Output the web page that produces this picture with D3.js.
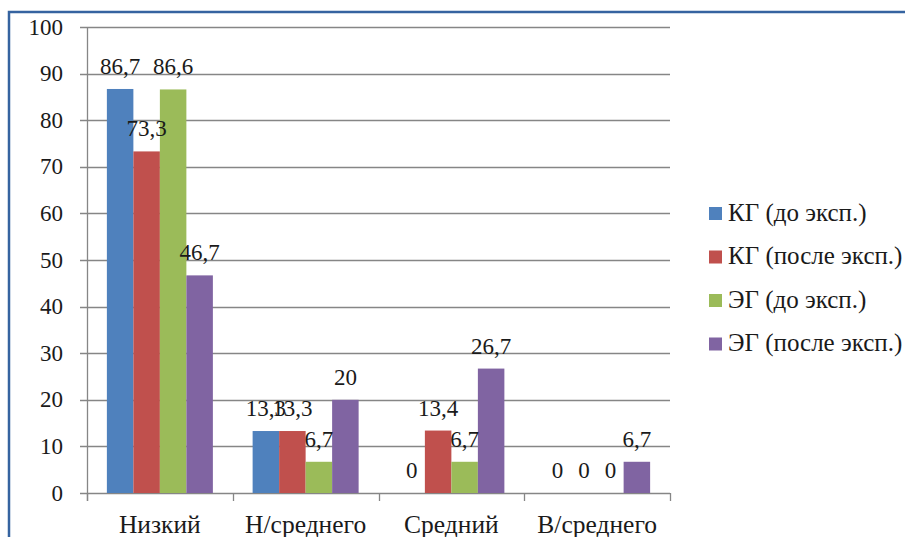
<!DOCTYPE html>
<html>
<head>
<meta charset="utf-8">
<script src="https://cdn.jsdelivr.net/npm/d3@7"></script>
</head>
<body style="margin:0">
<svg width="905" height="537" id="s"></svg>
<script>
// Levels (categories) along the x axis
const categories = ["Низкий", "Н/среднего", "Средний", "В/среднего"];

// Groups shown in the legend
const seriesNames = ["КГ (до эксп.)", "КГ (после эксп.)", "ЭГ (до эксп.)", "ЭГ (после эксп.)"];

// Percent of pupils per level, one array per group
const kgBefore = [86.7, 13.3, 0, 0];
const kgAfter  = [73.3, 13.3, 13.4, 0];
const egBefore = [86.6, 6.7, 6.7, 0];
const egAfter  = [46.7, 20, 26.7, 6.7];

const yTicks = [0, 10, 20, 30, 40, 50, 60, 70, 80, 90, 100];

const seriesValues = [kgBefore, kgAfter, egBefore, egAfter];
const colors = ["#4F81BD", "#C0504D", "#9BBB59", "#8064A2"];

const FONT = "'Liberation Serif', monospace";
const TEXT_COLOR = "#1a1a1a";

const svg = d3.select("#s");

// white page
svg.append("rect").attr("width", 905).attr("height", 537).attr("fill", "#fff");

// outer frame
svg.append("rect")
  .attr("x", 9).attr("y", 12)
  .attr("width", 920).attr("height", 560)
  .attr("fill", "none")
  .attr("stroke", "#3563a0")
  .attr("stroke-width", 2.5);

const plot = { left: 87, right: 670, top: 27, bottom: 493 };

const y = d3.scaleLinear().domain([0, 100]).range([plot.bottom, plot.top]);
const x0 = d3.scaleBand().domain(categories).range([plot.left, plot.right]).padding(0);
const x1 = d3.scaleBand().domain(d3.range(seriesNames.length))
  .range([0, x0.bandwidth()]).paddingInner(0).paddingOuter(0.75);

const gridColor = "#868686";

// horizontal gridlines with outward ticks
svg.append("g")
  .selectAll("line")
  .data(yTicks)
  .join("line")
  .attr("x1", plot.left - 7)
  .attr("x2", plot.right)
  .attr("y1", d => Math.round(y(d)) + 0.5)
  .attr("y2", d => Math.round(y(d)) + 0.5)
  .attr("stroke", gridColor)
  .attr("stroke-width", 1.3);

// y tick labels
svg.append("g")
  .selectAll("text")
  .data(yTicks)
  .join("text")
  .attr("x", 63)
  .attr("y", d => y(d))
  .attr("dy", "0.33em")
  .attr("text-anchor", "end")
  .attr("font-family", FONT)
  .attr("fill", TEXT_COLOR)
  .attr("font-size", 23)
  .text(d => d);

// vertical axis line
svg.append("line")
  .attr("x1", plot.left + 0.5).attr("x2", plot.left + 0.5)
  .attr("y1", plot.top).attr("y2", plot.bottom + 8)
  .attr("stroke", gridColor).attr("stroke-width", 1.3);

// category boundary ticks on the x axis
const boundaries = categories.map(c => x0(c)).concat([plot.right]);
svg.append("g")
  .selectAll("line")
  .data(boundaries)
  .join("line")
  .attr("x1", d => Math.round(d) + 0.5)
  .attr("x2", d => Math.round(d) + 0.5)
  .attr("y1", plot.bottom)
  .attr("y2", plot.bottom + 8)
  .attr("stroke", gridColor)
  .attr("stroke-width", 1.3);

// bars
const groups = svg.append("g")
  .selectAll("g")
  .data(categories)
  .join("g")
  .attr("transform", c => `translate(${x0(c)},0)`);

groups.selectAll("rect")
  .data((c, ci) => seriesValues.map((vals, si) => ({ si, v: vals[ci] })))
  .join("rect")
  .attr("x", d => x1(d.si))
  .attr("width", x1.bandwidth())
  .attr("y", d => y(d.v))
  .attr("height", d => plot.bottom - y(d.v))
  .attr("fill", d => colors[d.si]);

// value labels above bars
groups.selectAll("text")
  .data((c, ci) => seriesValues.map((vals, si) => ({ si, v: vals[ci] })))
  .join("text")
  .attr("x", d => x1(d.si) + x1.bandwidth() / 2)
  .attr("y", d => y(d.v) - 15)
  .attr("text-anchor", "middle")
  .attr("font-family", FONT)
  .attr("fill", TEXT_COLOR)
  .attr("font-size", 23)
  .text(d => String(d.v).replace(".", ","));

// x axis category labels
svg.append("g")
  .selectAll("text")
  .data(categories)
  .join("text")
  .attr("x", c => x0(c) + x0.bandwidth() / 2)
  .attr("y", 533)
  .attr("text-anchor", "middle")
  .attr("font-family", FONT)
  .attr("fill", TEXT_COLOR)
  .attr("font-size", 25.5)
  .text(c => c);

// legend
const legend = svg.append("g")
  .selectAll("g")
  .data(seriesNames)
  .join("g")
  .attr("transform", (d, i) => `translate(709,${213 + i * 43.5})`);

legend.append("rect")
  .attr("x", 0).attr("y", -6)
  .attr("width", 13).attr("height", 13)
  .attr("fill", (d, i) => colors[i]);

legend.append("text")
  .attr("x", 19)
  .attr("y", 0)
  .attr("dy", "0.3em")
  .attr("font-family", FONT)
  .attr("fill", TEXT_COLOR)
  .attr("font-size", 25)
  .text(d => d);
</script>
</body>
</html>
